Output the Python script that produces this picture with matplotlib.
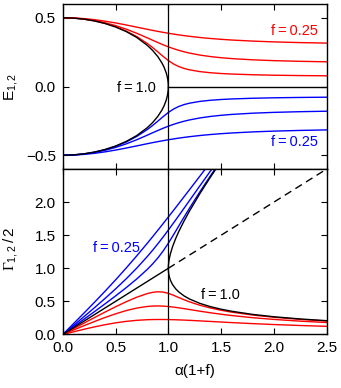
import matplotlib
matplotlib.use("Agg")
import matplotlib.pyplot as plt

plt.rcParams['font.family'] = ['Liberation Sans', 'DejaVu Sans']
plt.rcParams['mathtext.fontset'] = 'custom'
plt.rcParams['mathtext.rm'] = 'Liberation Sans'
plt.rcParams['mathtext.it'] = 'Liberation Sans:italic'
plt.rcParams['mathtext.cal'] = 'Liberation Serif'

# ---- data ----
X = [0.0, 0.1, 0.2, 0.3, 0.4, 0.5, 0.6, 0.7, 0.8, 0.85, 0.9, 0.95, 1.0, 1.05,
     1.1, 1.15, 1.2, 1.3, 1.4, 1.5, 1.6, 1.8, 2.0, 2.25, 2.5]

# energies of the upper (red) branch, f = 0.25, 0.5, 0.75
E_up_025 = [0.5, 0.4984, 0.4937, 0.4859, 0.4753, 0.4624, 0.4477, 0.4320, 0.4161, 0.4084,
            0.4010, 0.3940, 0.3873, 0.3811, 0.3753, 0.3699, 0.3650, 0.3563, 0.3491, 0.3431,
            0.3380, 0.3301, 0.3244, 0.3193, 0.3156]
E_up_050 = [0.5, 0.4978, 0.4911, 0.4798, 0.4639, 0.4431, 0.4175, 0.3875, 0.3542, 0.3370,
            0.3200, 0.3038, 0.2887, 0.2750, 0.2629, 0.2523, 0.2432, 0.2285, 0.2176, 0.2094,
            0.2030, 0.1940, 0.1881, 0.1831, 0.1797]
E_up_075 = [0.5, 0.4975, 0.4901, 0.4775, 0.4593, 0.4350, 0.4035, 0.3636, 0.3135, 0.2842,
            0.2524, 0.2196, 0.1890, 0.1638, 0.1449, 0.1313, 0.1214, 0.1082, 0.1000, 0.0945,
            0.0906, 0.0854, 0.0821, 0.0795, 0.0778]
# energies of the lower (blue) branch
E_lo_025 = [-0.5, -0.4984, -0.4937, -0.4859, -0.4753, -0.4624, -0.4477, -0.4320, -0.4161, -0.4084,
            -0.4010, -0.3940, -0.3873, -0.3811, -0.3753, -0.3699, -0.3650, -0.3563, -0.3491, -0.3431,
            -0.3380, -0.3301, -0.3244, -0.3193, -0.3156]
E_lo_050 = [-0.5, -0.4978, -0.4911, -0.4798, -0.4639, -0.4431, -0.4175, -0.3875, -0.3542, -0.3370,
            -0.3200, -0.3038, -0.2887, -0.2750, -0.2629, -0.2523, -0.2432, -0.2285, -0.2176, -0.2094,
            -0.2030, -0.1940, -0.1881, -0.1831, -0.1797]
E_lo_075 = [-0.5, -0.4975, -0.4901, -0.4775, -0.4593, -0.4350, -0.4035, -0.3636, -0.3135, -0.2842,
            -0.2524, -0.2196, -0.1890, -0.1638, -0.1449, -0.1313, -0.1214, -0.1082, -0.1000, -0.0945,
            -0.0906, -0.0854, -0.0821, -0.0795, -0.0778]

# widths Gamma/2 of the narrow (red) branch
G_red_025 = [0.0, 0.0398, 0.0784, 0.1148, 0.1475, 0.1756, 0.1979, 0.2138, 0.2233, 0.2257,
             0.2267, 0.2266, 0.2254, 0.2234, 0.2206, 0.2174, 0.2137, 0.2055, 0.1969, 0.1882,
             0.1798, 0.1642, 0.1504, 0.1357, 0.1234]
G_red_050 = [0.0, 0.0665, 0.1321, 0.1958, 0.2563, 0.3119, 0.3605, 0.3989, 0.4235, 0.4296,
             0.4313, 0.4288, 0.4226, 0.4136, 0.4026, 0.3903, 0.3775, 0.3519, 0.3279, 0.3061,
             0.2866, 0.2538, 0.2276, 0.2015, 0.1807]
G_red_075 = [0.0, 0.0856, 0.1709, 0.2551, 0.3378, 0.4179, 0.4938, 0.5625, 0.6177, 0.6364,
             0.6453, 0.6410, 0.6220, 0.5920, 0.5578, 0.5243, 0.4937, 0.4416, 0.4000, 0.3661,
             0.3379, 0.2936, 0.2602, 0.2282, 0.2034]
# widths Gamma/2 of the broad (blue) branch (until it leaves the frame)
G_blue_025 = [0.0, 0.1602, 0.3216, 0.4852, 0.6525, 0.8244, 1.0021, 1.1862, 1.3768, 1.4743,
              1.5733, 1.6734, 1.7746, 1.8766, 1.9794, 2.0827, 2.1863, 2.3945, 2.6031]
G_blue_050 = [0.0, 0.1335, 0.2679, 0.4042, 0.5437, 0.6881, 0.8395, 1.0011, 1.1765, 1.2704,
              1.3687, 1.4712, 1.5774, 1.6864, 1.7974, 1.9097, 2.0225, 2.2481, 2.4721, 2.6939]
G_blue_075 = [0.0, 0.1144, 0.2291, 0.3449, 0.4622, 0.5821, 0.7062, 0.8375, 0.9823, 1.0636,
              1.1547, 1.2590, 1.3780, 1.5080, 1.6422, 1.7757, 1.9063, 2.1584, 2.4000, 2.6339]

# f = 1.0 (black)
X_E1 = [0.0, 0.1, 0.2, 0.3, 0.4, 0.5, 0.6, 0.7, 0.8, 0.85, 0.9, 0.94, 0.96, 0.98,
        0.99, 0.995, 0.999, 1.0]
E1_up = [0.5, 0.4975, 0.4899, 0.4770, 0.4583, 0.4330, 0.4000, 0.3571, 0.3000, 0.2634,
         0.2179, 0.1706, 0.1400, 0.0995, 0.0705, 0.0499, 0.0224, 0.0]
E1_lo = [-0.5, -0.4975, -0.4899, -0.4770, -0.4583, -0.4330, -0.4000, -0.3571, -0.3000, -0.2634,
         -0.2179, -0.1706, -0.1400, -0.0995, -0.0705, -0.0499, -0.0224, 0.0]
X_E1_flat = [1.0, 2.5]
E1_flat = [0.0, 0.0]

X_G1_lin = [0.0, 1.0]
G1_lin = [0.0, 1.0]
X_G1 = [1.0, 1.001, 1.005, 1.01, 1.02, 1.04, 1.07, 1.1, 1.15, 1.2, 1.3, 1.4, 1.5,
        1.6, 1.8, 2.0, 2.25, 2.5]
G1_up = [1.0, 1.0457, 1.1051, 1.1518, 1.2210, 1.3257, 1.4507, 1.5583, 1.7179, 1.8633,
         2.1307, 2.3798, 2.6180]
G1_lo = [1.0, 0.9563, 0.9049, 0.8682, 0.8190, 0.7543, 0.6893, 0.6417, 0.5821, 0.5367,
         0.4693, 0.4202, 0.3820, 0.3510, 0.3033, 0.2679, 0.2344, 0.2087]
X_dash = [1.0, 2.5]
G_dash = [1.0, 2.5]

RED = '#ff0000'
BLUE = '#0000ff'
LW = 1.0

fig = plt.figure(figsize=(3.41, 3.88), dpi=100)
ax1 = fig.add_axes([0.184, 0.5644, 0.774, 0.4253])
ax2 = fig.add_axes([0.184, 0.1379, 0.774, 0.4265])

# --- top panel ---
for e in (E_up_025, E_up_050, E_up_075):
    ax1.plot(X, e, color=RED, lw=LW)
for e in (E_lo_025, E_lo_050, E_lo_075):
    ax1.plot(X, e, color=BLUE, lw=LW)
ax1.plot(X_E1 + X_E1[::-1], E1_up + E1_lo[::-1], color='black', lw=LW)
ax1.plot(X_E1_flat, E1_flat, color='black', lw=LW)
ax1.axvline(1.0, color='black', lw=0.9)
ax1.set_xlim(0, 2.5)
ax1.set_ylim(-0.6, 0.6)
ax1.set_yticks([-0.5, 0.0, 0.5])
ax1.set_xticks([0, 0.5, 1.0, 1.5, 2.0, 2.5])
ax1.tick_params(labelbottom=False)
ax1.set_ylabel(r'$\mathrm{E}_{1,2}$', fontsize=11)
ax1.yaxis.set_label_coords(-0.162, 0.5)
ax1.text(2.415, 0.40, 'f\u2009=\u20090.25', color=RED, fontsize=10.5, ha='right', va='center')
ax1.text(2.415, -0.40, 'f\u2009=\u20090.25', color=BLUE, fontsize=10.5, ha='right', va='center')
ax1.text(0.70, -0.01, 'f\u2009=\u20091.0', color='black', fontsize=10.5, ha='center', va='center')

# --- bottom panel ---
for g in (G_red_025, G_red_050, G_red_075):
    ax2.plot(X, g, color=RED, lw=LW)
for g in (G_blue_025, G_blue_050, G_blue_075):
    ax2.plot(X[:len(g)], g, color=BLUE, lw=LW)
ax2.plot(X_G1_lin, G1_lin, color='black', lw=LW)
ax2.plot(X_G1[:len(G1_up)][::-1] + X_G1, G1_up[::-1] + G1_lo, color='black', lw=LW)
ax2.plot(X_dash, G_dash, color='black', lw=LW, dashes=(5.5, 3.5))
ax2.axvline(1.0, color='black', lw=0.9)
ax2.set_xlim(0, 2.5)
ax2.set_ylim(0, 2.5)
ax2.set_yticks([0.0, 0.5, 1.0, 1.5, 2.0])
ax2.set_xticks([0, 0.5, 1.0, 1.5, 2.0, 2.5])
ax2.set_xlabel('\u03b1(1+f)', fontsize=11, labelpad=6)
ax2.set_ylabel(r'$\mathcal{\Gamma}_{1,2}\,/\,2$', fontsize=11)
ax2.yaxis.set_label_coords(-0.162, 0.52)
ax2.text(0.505, 1.30, 'f\u2009=\u20090.25', color=BLUE, fontsize=10.5, ha='center', va='center')
ax2.text(1.493, 0.593, 'f\u2009=\u20091.0', color='black', fontsize=10.5, ha='center', va='center')

for ax in (ax1, ax2):
    ax.tick_params(direction='in', top=True, right=True, length=4.5, width=0.8,
                   labelsize=11, pad=5)
    for s in ax.spines.values():
        s.set_linewidth(1.0)

fig.savefig('out.png', dpi=100)
